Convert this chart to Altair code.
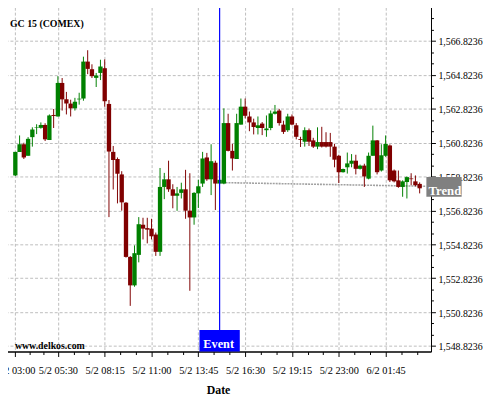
import altair as alt
import pandas as pd

# ---------------- data (15-minute candles, GC COMEX) ----------------
idx = list(range(96))
open_ = [1558.89, 1560.28, 1560.73, 1560.05, 1561.15, 1561.70, 1561.70, 1561.87, 1560.98, 1562.46,
         1562.37, 1564.35, 1563.38, 1563.13, 1562.85, 1563.38, 1563.43, 1565.61, 1565.16, 1564.65,
         1564.94, 1565.22, 1563.11, 1560.28, 1559.86, 1558.95, 1557.28, 1554.08, 1552.40, 1554.20,
         1555.98, 1555.78, 1555.75, 1555.40, 1554.38, 1558.21, 1558.66, 1558.07, 1557.69, 1557.86,
         1558.07, 1556.81, 1556.41, 1557.83, 1558.41, 1559.95, 1558.66, 1559.64, 1558.41, 1558.41,
         1561.98, 1560.34, 1559.86, 1561.89, 1562.95, 1562.37, 1562.02, 1561.69, 1561.95, 1561.56,
         1561.69, 1562.53, 1562.72, 1561.89, 1561.56, 1562.37, 1561.85, 1561.04, 1560.88, 1561.56,
         1560.96, 1560.59, 1560.86, 1560.86, 1560.86, 1560.59, 1560.05, 1559.08, 1559.37, 1559.58,
         1559.76, 1559.28, 1559.47, 1558.70, 1560.05, 1560.96, 1559.18, 1560.05, 1560.66, 1559.18,
         1558.60, 1558.21, 1558.50, 1558.71, 1558.54, 1558.39]
high = [1560.28, 1561.25, 1560.82, 1561.15, 1561.73, 1561.91, 1562.02, 1561.97, 1562.49, 1562.81,
        1564.75, 1564.64, 1563.82, 1563.36, 1563.47, 1563.77, 1565.90, 1566.28, 1565.45, 1564.94,
        1565.72, 1565.74, 1563.34, 1560.63, 1559.95, 1559.14, 1557.32, 1554.13, 1554.76, 1556.43,
        1556.39, 1556.39, 1556.33, 1555.52, 1559.33, 1559.04, 1559.76, 1558.37, 1558.21, 1558.46,
        1559.22, 1559.02, 1557.90, 1558.64, 1560.28, 1560.22, 1560.73, 1559.76, 1558.71, 1562.85,
        1562.53, 1560.75, 1562.53, 1563.43, 1563.43, 1562.66, 1562.24, 1562.37, 1562.04, 1562.43,
        1562.72, 1563.05, 1562.82, 1562.12, 1562.53, 1562.49, 1561.98, 1561.17, 1561.73, 1561.66,
        1561.11, 1561.73, 1561.76, 1561.44, 1561.40, 1560.76, 1560.11, 1559.29, 1560.24, 1560.15,
        1560.11, 1559.53, 1559.58, 1560.24, 1561.83, 1560.98, 1560.73, 1561.25, 1560.72, 1559.24,
        1559.18, 1558.60, 1558.83, 1559.02, 1558.89, 1558.48]
low = [1558.85, 1560.28, 1559.86, 1560.05, 1560.59, 1561.33, 1561.65, 1560.92, 1560.98, 1561.69,
       1562.37, 1562.72, 1562.49, 1562.37, 1562.72, 1563.07, 1563.30, 1564.87, 1564.64, 1564.11,
       1564.52, 1562.95, 1556.43, 1558.06, 1557.24, 1556.81, 1554.04, 1551.19, 1552.32, 1553.76,
       1555.11, 1554.88, 1555.11, 1554.14, 1554.14, 1557.49, 1557.92, 1556.95, 1556.80, 1557.53,
       1556.33, 1552.08, 1555.98, 1556.97, 1558.21, 1558.57, 1557.73, 1556.85, 1558.37, 1558.37,
       1560.31, 1559.18, 1559.86, 1561.89, 1562.26, 1561.50, 1561.31, 1561.31, 1561.27, 1561.17,
       1561.56, 1562.49, 1561.83, 1561.34, 1561.46, 1561.85, 1561.02, 1560.57, 1560.59, 1560.63,
       1560.51, 1560.44, 1560.54, 1560.54, 1559.99, 1559.37, 1558.44, 1559.06, 1559.00, 1559.37,
       1558.95, 1559.24, 1558.21, 1558.66, 1560.05, 1558.95, 1559.12, 1559.99, 1558.50, 1558.48,
       1558.16, 1557.63, 1557.53, 1558.31, 1558.25, 1557.83]
close = [1560.28, 1560.73, 1559.95, 1561.05, 1561.60, 1561.73, 1561.87, 1561.02, 1562.43, 1562.40,
         1564.35, 1563.38, 1563.13, 1562.85, 1563.24, 1563.42, 1565.61, 1565.18, 1564.75, 1564.79,
         1565.32, 1563.27, 1560.30, 1559.80, 1558.99, 1557.30, 1554.08, 1552.40, 1554.30, 1556.01,
         1555.75, 1555.69, 1555.30, 1554.38, 1558.21, 1558.66, 1558.07, 1557.69, 1557.83, 1558.07,
         1556.81, 1556.41, 1557.86, 1558.25, 1559.89, 1558.66, 1559.73, 1558.41, 1558.63, 1561.98,
         1560.34, 1559.89, 1561.98, 1562.95, 1562.41, 1562.02, 1561.75, 1561.85, 1561.69, 1561.66,
         1562.55, 1562.66, 1561.98, 1561.46, 1562.37, 1561.89, 1561.17, 1560.99, 1561.56, 1560.88,
         1560.59, 1560.86, 1560.59, 1560.59, 1560.59, 1559.82, 1559.08, 1559.27, 1559.60, 1559.76,
         1559.28, 1559.47, 1558.83, 1560.05, 1560.96, 1559.08, 1560.08, 1560.75, 1558.60, 1558.54,
         1558.21, 1558.54, 1558.79, 1558.67, 1558.31, 1558.13]

x_tick_values = [0, 10, 21, 32, 43, 54, 65, 76, 87]
x_tick_labels = ["5/2 03:00", "5/2 05:30", "5/2 08:15", "5/2 11:00", "5/2 13:45",
                 "5/2 16:30", "5/2 19:15", "5/2 23:00", "6/2 01:45"]
y_tick_values = [1548.8236, 1550.8236, 1552.8236, 1554.8236, 1556.8236, 1558.8236,
                 1560.8236, 1562.8236, 1564.8236, 1566.8236, 1568.8236]

event_index = [48]
event_label = ["Event"]
trend_x = [48, 96.5]
trend_y = [1558.47, 1558.25]
trend_label = ["Trend"]
title_text = ["GC 15 (COMEX)"]
watermark_text = ["www.delkos.com"]

# ---------------- layout / style ----------------
W, H = 433, 350
X_DOMAIN = [-1.26, 96.51]
Y_DOMAIN = [1548.4926, 1568.818]
px_x = W / (X_DOMAIN[1] - X_DOMAIN[0])
px_y = H / (Y_DOMAIN[1] - Y_DOMAIN[0])
FONT = "Liberation Serif"
GREEN, RED = "#008000", "#800000"

xs = alt.Scale(domain=X_DOMAIN, nice=False, zero=False)
ys = alt.Scale(domain=Y_DOMAIN, nice=False, zero=False)

# minor ticks at thirds between major ticks
x_minor = []
for a, b in zip(x_tick_values[:-1], x_tick_values[1:]):
    x_minor += [a + (b - a) / 3, a + 2 * (b - a) / 3]
x_minor += [x_tick_values[-1] + 11 / 3, x_tick_values[-1] + 22 / 3]
y_minor = []
for a, b in zip(y_tick_values[:-1], y_tick_values[1:]):
    y_minor += [a + (b - a) / 3, a + 2 * (b - a) / 3]

x_major_test = "indexof([" + ",".join(str(v) for v in x_tick_values) + "], datum.value) >= 0"
x_label_expr = "".join(f"datum.value === {v} ? '{l}' : " for v, l in zip(x_tick_values, x_tick_labels)) + "''"
y_major_test = "abs(datum.value - 1548.8236 - 2 * round((datum.value - 1548.8236) / 2)) < 0.01"
y_label_expr = f"{y_major_test} ? format(datum.value, ',.4f') : ''"

x_axis = alt.Axis(
    values=sorted(x_tick_values + x_minor), tickCount=500, labelExpr=x_label_expr,
    title="Date", titleFont=FONT, titleFontSize=12, titleFontWeight="bold", titleColor="black",
    titleBaseline="alphabetic", titleY=42.5,
    labelFont=FONT, labelFontSize=10.5, labelColor="black", labelBaseline="alphabetic",
    labelPadding=17, labelOverlap=False, labelFlush=False, labelBound=False,
    tickColor="black", tickSize={"condition": {"test": x_major_test, "value": 5}, "value": 3},
    domainColor="black", domainWidth=1.5,
    grid=True, gridColor="#bdbdbd", gridDash=[3, 2],
    gridOpacity={"condition": {"test": x_major_test, "value": 1}, "value": 0},
    zindex=0,
)
y_axis = alt.Axis(
    orient="right", values=sorted(y_tick_values + y_minor), tickCount=500, labelExpr=y_label_expr,
    title=None,
    labelFont=FONT, labelFontSize=10, labelColor="black", labelBaseline="alphabetic",
    labelOffset=4.0, labelPadding=2.5, labelOverlap=False, labelFlush=False, labelBound=False,
    tickColor="black", tickSize={"condition": {"test": y_major_test, "value": 4.5}, "value": 2.5},
    domainColor="black", domainWidth=1,
    grid=True, gridColor="#bdbdbd", gridDash=[3, 2],
    gridOpacity={"condition": {"test": y_major_test, "value": 1}, "value": 0},
    zindex=0,
)

df = pd.DataFrame({"i": idx, "open": open_, "high": high, "low": low, "close": close})
df["dir"] = ["up" if c >= o else "down" for o, c in zip(open_, close)]
color = alt.Color("dir:N", scale=alt.Scale(domain=["up", "down"], range=[GREEN, RED]), legend=None)

base = alt.Chart(df)
axes_layer = base.mark_rule(opacity=0).encode(
    x=alt.X("i:Q", scale=xs, axis=x_axis), y=alt.Y("low:Q", scale=ys, axis=y_axis), y2="high:Q")

trend_df = pd.DataFrame({"i": trend_x, "v": trend_y})
trend = alt.Chart(trend_df).mark_line(color="#a0a0a0", strokeWidth=1.6, strokeDash=[2, 1]).encode(
    x=alt.X("i:Q", scale=xs), y=alt.Y("v:Q", scale=ys))

wicks = base.mark_rule(strokeWidth=1).encode(
    x=alt.X("i:Q", scale=xs), y=alt.Y("low:Q", scale=ys), y2="high:Q", color=color)
bodies = base.mark_bar(size=4.4).encode(
    x=alt.X("i:Q", scale=xs), y=alt.Y("open:Q", scale=ys), y2="close:Q", color=color)

ev_df = pd.DataFrame({"i": event_index, "label": event_label,
                      "bot": [Y_DOMAIN[0]], "top": [Y_DOMAIN[0] + 22 / px_y]})
ev_line = alt.Chart(ev_df).mark_rule(color="#0000ff", strokeWidth=1.2).encode(x=alt.X("i:Q", scale=xs))
ev_box = alt.Chart(ev_df).mark_bar(size=41, color="#0000ff").encode(
    x=alt.X("i:Q", scale=xs), y=alt.Y("top:Q", scale=ys), y2="bot:Q")
ev_text = alt.Chart(ev_df).mark_text(font=FONT, fontSize=12.5, fontWeight="bold", color="white",
                                     align="center", baseline="alphabetic", dx=-1, dy=-3.3).encode(
    x=alt.X("i:Q", scale=xs), y=alt.Y("bot:Q", scale=ys), text="label:N")

tb_center = trend_y[-1] - 0.04
tr_df = pd.DataFrame({"x0": [X_DOMAIN[1] + 0.3 / px_x], "x1": [X_DOMAIN[1] + 37 / px_x],
                      "xc": [X_DOMAIN[1] + 19.5 / px_x],
                      "y0": [tb_center - 10 / px_y], "y1": [tb_center + 10 / px_y],
                      "yc": [tb_center], "label": trend_label})
tr_box = alt.Chart(tr_df).mark_rect(color="#808080").encode(
    x=alt.X("x0:Q", scale=xs), x2="x1:Q", y=alt.Y("y0:Q", scale=ys), y2="y1:Q")
tr_text = alt.Chart(tr_df).mark_text(font=FONT, fontSize=13, fontWeight="bold", color="white",
                                     align="center", baseline="alphabetic", dy=8.3).encode(
    x=alt.X("xc:Q", scale=xs), y=alt.Y("yc:Q", scale=ys), text="label:N")

title_mark = alt.Chart(pd.DataFrame({"t": title_text})).mark_text(
    font=FONT, fontSize=10, fontWeight="bold", color="black", align="left", baseline="alphabetic").encode(
    x=alt.value(5), y=alt.value(20), text="t:N")
wm_mark = alt.Chart(pd.DataFrame({"t": watermark_text})).mark_text(
    font=FONT, fontSize=10, fontWeight="bold", color="black", align="left", baseline="alphabetic").encode(
    x=alt.value(10), y=alt.value(347), text="t:N")

chart = alt.layer(axes_layer, trend, wicks, bodies, ev_line, ev_box, ev_text, tr_box, tr_text,
                  title_mark, wm_mark).properties(
    width=W, height=H,
    autosize=alt.AutoSizeParams(type="none"),
    padding={"left": -3, "top": -4, "right": 62, "bottom": 46},
    background="white",
).configure_view(stroke=None)

chart.save("out.html", embed_options={"renderer": "svg", "actions": False})
